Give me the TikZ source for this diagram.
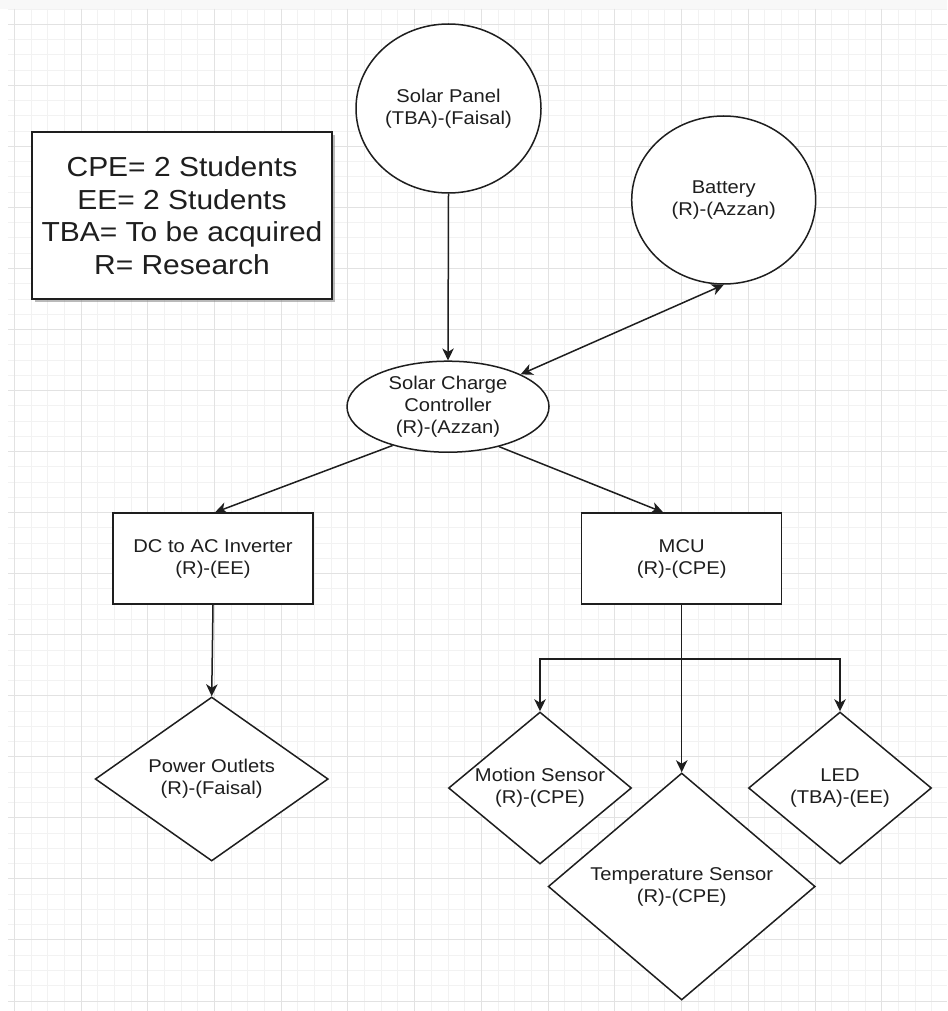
\documentclass[tikz,border=0pt]{standalone}
\usepackage{fontspec}
\setmainfont{Liberation Sans}[FakeStretch=1.09]
\usepackage{tikz}
\usetikzlibrary{arrows.meta, shapes.geometric, shadows}
\definecolor{GridMinor}{HTML}{F2F2F2}
\definecolor{GridMajor}{HTML}{E2E2E2}
\definecolor{TopBand}{HTML}{F8F8F8}
\definecolor{InkBlack}{HTML}{1E1E1E}
\definecolor{ShadowGray}{HTML}{8C8C8C}
\colorlet{BlockFill}{white}
\tikzset{
    blockbase/.style={draw=InkBlack, line width=1.5pt, fill=BlockFill, text=InkBlack,
        align=center, inner sep=0pt, font=\fontsize{18.5}{22}\selectfont},
    blockcircle/.style={blockbase, ellipse},
    blockbox/.style={blockbase, rectangle, minimum width=200pt, minimum height=91pt},
    blockdiamond/.style={blockbase, diamond, aspect=1.25},
    legendbox/.style={draw=InkBlack, line width=1.8pt, fill=BlockFill, text=InkBlack,
        align=center, inner sep=0pt, minimum width=300pt, minimum height=167pt,
        font=\fontsize{27.5}{32.5}\selectfont,
        drop shadow={shadow xshift=3pt, shadow yshift=-3pt, fill=ShadowGray, opacity=0.6}},
    flowarrow/.style={draw=InkBlack, line width=1.5pt, ->},
}

\begin{document}
\begin{tikzpicture}[x=1pt, y=-1pt, >={Stealth[length=12pt, width=11.5pt, inset=3.5pt]}]

    % Canvas
    \useasboundingbox (0,0) rectangle (947,1011);
    \fill[white] (0,0) rectangle (947,1011);
    \fill[TopBand] (0,0) rectangle (947,9);

    % Grid
    \foreach \i in {0,...,55}
        \draw[GridMinor, line width=0.9pt] ({14.3+16.68*\i},9) -- ({14.3+16.68*\i},1011);
    \foreach \j in {-1,...,64}
        \draw[GridMinor, line width=0.9pt] (8,{24.3+15.26*\j}) -- (947,{24.3+15.26*\j});
    \foreach \i in {0,...,13}
        \draw[GridMajor, line width=0.9pt] ({14.3+66.72*\i},9) -- ({14.3+66.72*\i},1011);
    \foreach \j in {0,...,16}
        \draw[GridMajor, line width=0.9pt] (8,{24.3+61.04*\j}) -- (947,{24.3+61.04*\j});

    % Legend
    \node[legendbox] (legend) at (182,215.5) {CPE= 2 Students\\EE= 2 Students\\TBA= To be acquired\\R= Research};

    % Power side
    \node[blockcircle, minimum width=185pt, minimum height=169pt] (panel) at (448.5,108.5) {Solar Panel\\(TBA)-(Faisal)};
    \node[blockcircle, minimum width=184pt, minimum height=168pt] (battery) at (723.7,200) {Battery\\(R)-(Azzan)};
    \node[blockcircle, minimum width=202pt, minimum height=91pt] (scc) at (448,406.7) {Solar Charge\\Controller\\(R)-(Azzan)};

    % Middle row
    \node[blockbox] (inverter) at (213,558.6) {DC to AC Inverter\\(R)-(EE)};
    \node[blockbox] (mcu) at (681.7,558.6) {MCU\\(R)-(CPE)};

    % Loads
    \node[blockdiamond, minimum width=233pt, minimum height=164pt] (outlets) at (211.7,779) {Power Outlets\\(R)-(Faisal)};
    \node[blockdiamond, minimum width=183pt, minimum height=152pt] (motion) at (540,788) {Motion Sensor\\(R)-(CPE)};
    \node[blockdiamond, minimum width=183pt, minimum height=152pt] (led) at (840,788) {LED\\(TBA)-(EE)};
    \node[blockdiamond, minimum width=267pt, minimum height=227pt] (temp) at (681.7,886.5) {Temperature Sensor\\(R)-(CPE)};

    % Connectors
    \draw[flowarrow] (panel.south) -- (scc.north);
    \draw[flowarrow, <->] (scc.24) -- (battery.south);
    \draw[flowarrow] (scc.215) -- ([xshift=2pt]inverter.north);
    \draw[flowarrow] (scc.322) -- ([xshift=-18.5pt]mcu.north);
    \draw[flowarrow] (inverter.south) -- (outlets.north);

    % MCU fan-out
    \coordinate (fork) at ([yshift=-54.3pt]mcu.south);
    \draw[flowarrow] (mcu.south) -- (temp.north);
    \draw[flowarrow] (mcu.south) -- (fork) -| (motion.north);
    \draw[flowarrow] (mcu.south) -- (fork) -| (led.north);

\end{tikzpicture}
\end{document}
